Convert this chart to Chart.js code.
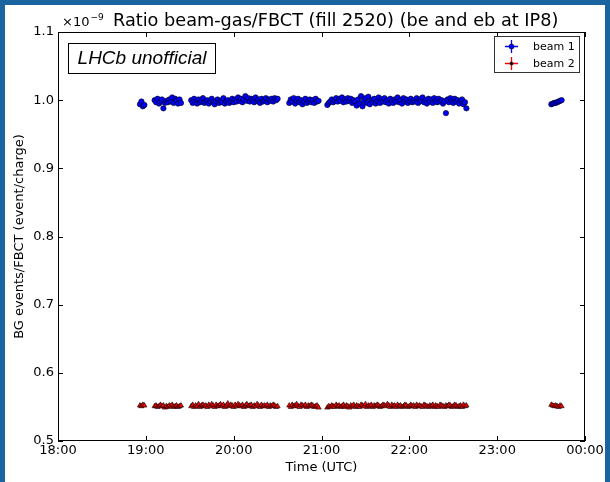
<!DOCTYPE html>
<html>
<head>
<meta charset="utf-8">
<script src="https://cdn.jsdelivr.net/npm/chart.js@4.4.0/dist/chart.umd.min.js"></script>
<style>
html,body{margin:0;padding:0;background:#fff;}
#wrap{position:absolute;left:0;top:0;width:610px;height:482px;}
</style>
</head>
<body>
<div id="wrap"><canvas id="c" width="610" height="482"></canvas></div>
<script>
// minutes after 18:00 (UTC)
const timesMin = [
 56,57,58,59,
 66,67,68,69,70,71,72,73,74,75,76,77,78,79,80,81,82,83,84,
 91,92,93,94,95,96,97,98,99,100,101,102,103,104,105,106,107,108,109,110,
 111,112,113,114,115,116,117,118,119,120,121,122,123,124,125,126,127,128,129,130,
 131,132,133,134,135,136,137,138,139,140,141,142,143,144,145,146,147,148,149,150,
 158,159,160,161,162,163,164,165,166,167,168,169,170,171,172,173,174,175,176,177,178,
 184,185,186,187,188,189,190,191,192,193,194,195,196,197,198,199,200,201,202,203,
 204,205,206,207,208,209,210,211,212,213,214,215,216,217,218,219,220,221,222,223,
 224,225,226,227,228,229,230,231,232,233,234,235,236,237,238,239,240,241,242,243,
 244,245,246,247,248,249,250,251,252,253,254,255,256,257,258,259,260,261,262,263,
 264,265,266,267,268,269,270,271,272,273,274,275,276,277,278,279,
 337,338,339,340,341,342,343,344
];
// ratio in units of 1e-9
const beam1 = [
 0.994,0.998,0.991,0.993,
 1.000,0.997,1.002,0.995,0.998,1.001,0.988,0.996,0.999,0.997,1.001,0.998,1.004,0.996,1.002,0.999,0.995,1.001,0.996,
 1.000,0.996,1.002,0.998,0.995,1.001,0.997,0.999,1.003,0.996,
 0.998,1.000,0.995,0.999,1.002,0.997,0.994,0.998,1.001,0.996,
 0.999,0.997,1.003,0.995,0.998,1.000,0.996,0.999,1.002,0.997,
 1.001,0.998,1.004,0.999,1.002,0.997,1.001,1.006,0.999,1.003,
 0.998,1.002,1.000,0.997,1.004,0.999,1.001,0.996,1.002,0.998,
 1.000,1.003,0.997,1.001,0.999,1.002,0.998,1.003,1.000,1.002,
 0.996,1.001,0.998,1.003,0.995,0.999,1.002,0.997,1.000,0.994,0.998,1.002,0.996,0.999,1.001,0.997,1.000,0.996,1.002,0.998,0.999,
 0.993,0.996,0.998,1.001,0.997,1.000,1.003,0.998,1.002,0.999,
 1.004,0.997,1.001,0.998,1.003,0.999,1.002,0.996,1.000,0.998,
 0.992,1.001,0.995,1.006,0.991,0.999,1.003,0.996,1.005,0.994,
 1.000,0.997,1.002,0.995,0.999,1.004,0.996,1.001,0.998,1.003,
 0.997,1.000,0.995,1.002,0.999,0.996,1.001,0.998,1.004,0.997,
 1.000,0.995,1.003,0.998,1.001,0.996,0.999,1.002,0.997,1.000,
 0.998,1.003,0.996,1.001,0.999,1.004,0.997,1.000,0.995,1.002,
 0.998,1.001,0.996,1.003,0.999,0.997,1.002,0.998,1.000,0.995,
 0.998,0.981,1.001,0.997,1.003,0.999,0.996,1.002,0.998,1.000,
 0.995,0.999,1.001,0.994,0.997,0.988,
 0.994,0.995,0.996,0.996,0.997,0.998,0.999,1.000
];
const beam2 = [
 0.552,0.551,0.553,0.552,
 0.551,0.552,0.550,0.551,0.553,0.551,0.552,0.549,0.551,0.550,0.552,0.551,0.553,0.550,0.551,0.552,0.550,0.551,0.552,
 0.551,0.553,0.550,0.552,0.551,0.554,0.550,0.552,0.553,0.551,
 0.552,0.550,0.553,0.551,0.554,0.552,0.550,0.553,0.551,0.552,
 0.554,0.551,0.553,0.550,0.552,0.555,0.551,0.553,0.552,0.550,
 0.553,0.551,0.554,0.552,0.551,0.553,0.550,0.552,0.554,0.551,
 0.552,0.553,0.550,0.552,0.551,0.554,0.552,0.550,0.553,0.551,
 0.552,0.551,0.553,0.550,0.552,0.551,0.553,0.552,0.550,0.551,
 0.552,0.550,0.553,0.551,0.552,0.554,0.551,0.550,0.553,0.552,0.551,0.553,0.550,0.552,0.551,0.553,0.552,0.550,0.551,0.552,0.549,
 0.549,0.551,0.550,0.552,0.551,0.550,0.553,0.551,0.552,0.550,
 0.551,0.553,0.550,0.552,0.551,0.549,0.552,0.551,0.553,0.550,
 0.552,0.551,0.550,0.553,0.552,0.551,0.554,0.550,0.552,0.551,
 0.553,0.550,0.552,0.551,0.553,0.552,0.550,0.551,0.553,0.552,
 0.551,0.554,0.552,0.550,0.553,0.551,0.552,0.550,0.553,0.551,
 0.552,0.550,0.551,0.553,0.552,0.550,0.551,0.553,0.551,0.552,
 0.550,0.553,0.551,0.552,0.551,0.550,0.553,0.552,0.551,0.550,
 0.552,0.551,0.553,0.550,0.552,0.551,0.550,0.553,0.552,0.551,
 0.550,0.552,0.551,0.553,0.552,0.550,0.551,0.553,0.552,0.550,
 0.551,0.552,0.550,0.553,0.551,0.552,
 0.553,0.552,0.551,0.552,0.551,0.550,0.552,0.551
];
const xTickLabels = ['18:00','19:00','20:00','21:00','22:00','23:00','00:00'];
const yTickLabels = ['0.5','0.6','0.7','0.8','0.9','1.0','1.1'];
const seriesNames = ['beam 1','beam 2'];
const titleText = 'Ratio beam-gas/FBCT (fill 2520) (be and eb at IP8)';

const FONT = '"DejaVu Sans", sans-serif';

const decor = {
  id: 'decor',
  beforeDraw(chart) {
    const ctx = chart.ctx;
    ctx.save();
    ctx.fillStyle = '#ffffff';
    ctx.fillRect(0, 0, 610, 482);
    ctx.fillStyle = '#1a64a0';
    ctx.fillRect(0, 0, 610, 5);
    ctx.fillRect(0, 0, 5, 482);
    ctx.fillRect(605, 0, 5, 482);
    ctx.restore();
  },
  afterDatasetsDraw(chart) {
    const ctx = chart.ctx;
    const a = chart.chartArea;
    const xs = chart.scales.x, ys = chart.scales.y;
    ctx.save();
    // frame
    ctx.strokeStyle = '#000';
    ctx.lineWidth = 1;
    ctx.strokeRect(Math.round(a.left) + 0.5, Math.round(a.top) + 0.5,
      Math.round(a.right - a.left) - 1, Math.round(a.bottom - a.top) - 1);
    // inward ticks
    ctx.beginPath();
    xs.ticks.forEach(t => {
      const px = Math.round(xs.getPixelForValue(t.value)) + 0.5;
      ctx.moveTo(px, a.bottom); ctx.lineTo(px, a.bottom - 5);
      ctx.moveTo(px, a.top); ctx.lineTo(px, a.top + 5);
    });
    ys.ticks.forEach(t => {
      const py = Math.round(ys.getPixelForValue(t.value)) + 0.5;
      ctx.moveTo(a.left, py); ctx.lineTo(a.left + 5, py);
      ctx.moveTo(a.right, py); ctx.lineTo(a.right - 5, py);
    });
    ctx.stroke();

    // title + offset text
    ctx.fillStyle = '#000';
    ctx.textBaseline = 'alphabetic';
    ctx.textAlign = 'left';
    ctx.font = '13px ' + FONT;
    ctx.fillText('\u00d710', 62, 26);
    const w10 = ctx.measureText('\u00d710').width;
    ctx.font = '9px ' + FONT;
    ctx.fillText('\u22129', 62 + w10 + 1, 20);
    ctx.font = '17.7px ' + FONT;
    ctx.fillText(titleText, 113, 26);

    // LHCb box
    ctx.fillStyle = '#fff';
    ctx.fillRect(68.5, 43.5, 147, 30);
    ctx.strokeStyle = '#000';
    ctx.strokeRect(68.5, 43.5, 147, 30);
    ctx.fillStyle = '#000';
    ctx.font = 'italic 19px "Liberation Sans", Arial, sans-serif';
    ctx.textAlign = 'center';
    ctx.textBaseline = 'middle';
    ctx.fillText('LHCb unofficial', 142, 59);

    // legend
    ctx.fillStyle = '#fff';
    ctx.fillRect(494.5, 36.5, 85, 36);
    ctx.strokeStyle = '#333';
    ctx.lineWidth = 1;
    ctx.strokeRect(494.5, 36.5, 85, 36);
    const entries = [
      {y: 46, line: '#0000ff', face: '#0000ff', r: 2.5},
      {y: 63, line: '#ff0000', face: '#000000', r: 1.5}
    ];
    entries.forEach((e, i) => {
      const cx = 511;
      ctx.strokeStyle = e.line;
      ctx.lineWidth = 1.3;
      ctx.beginPath();
      ctx.moveTo(cx - 6, e.y + 0.5); ctx.lineTo(cx + 7, e.y + 0.5);
      ctx.moveTo(cx + 0.5, e.y - 6); ctx.lineTo(cx + 0.5, e.y + 7);
      ctx.stroke();
      ctx.fillStyle = e.face;
      ctx.beginPath();
      ctx.arc(cx + 0.5, e.y + 0.5, e.r, 0, Math.PI * 2);
      ctx.fill();
      ctx.strokeStyle = '#000';
      ctx.lineWidth = 0.6;
      ctx.stroke();
      ctx.fillStyle = '#000';
      ctx.font = '11px ' + FONT;
      ctx.textAlign = 'left';
      ctx.textBaseline = 'middle';
      ctx.fillText(seriesNames[i], 533, e.y + 1);
    });
    ctx.restore();
  }
};

new Chart(document.getElementById('c'), {
  type: 'scatter',
  data: {
    datasets: [
      {
        label: seriesNames[0],
        data: timesMin.map((t, i) => ({x: t, y: beam1[i]})),
        pointStyle: 'circle',
        pointRadius: 2.7,
        backgroundColor: '#0000ff',
        borderColor: '#000000',
        borderWidth: 0.6,
        showLine: false
      },
      {
        label: seriesNames[1],
        data: timesMin.map((t, i) => ({x: t, y: beam2[i]})),
        pointStyle: 'triangle',
        pointRadius: 3,
        backgroundColor: '#ff0000',
        borderColor: '#000000',
        borderWidth: 0.6,
        showLine: false
      }
    ]
  },
  options: {
    responsive: false,
    animation: false,
    devicePixelRatio: 1,
    layout: {padding: {left: 0, right: 25, top: 32, bottom: 0}},
    plugins: {legend: {display: false}, tooltip: {enabled: false}},
    scales: {
      x: {
        type: 'linear', min: 0, max: 360,
        afterFit: s => { s.height = 41; },
        afterBuildTicks: s => { s.ticks = xTickLabels.map((l, i) => ({value: i * 60})); },
        grid: {display: false, drawTicks: false},
        border: {display: false},
        ticks: {
          padding: 2, maxRotation: 0, autoSkip: false,
          color: '#000', font: {family: FONT, size: 13},
          callback: (v, i) => xTickLabels[i]
        },
        title: {display: true, text: 'Time (UTC)', color: '#000',
          font: {family: FONT, size: 13}, padding: {top: 0, bottom: 7}}
      },
      y: {
        type: 'linear', min: 0.5, max: 1.1,
        afterFit: s => { s.width = 58; },
        afterBuildTicks: s => { s.ticks = yTickLabels.map(l => ({value: parseFloat(l)})); },
        grid: {display: false, drawTicks: false},
        border: {display: false},
        ticks: {
          padding: 4, autoSkip: false,
          color: '#000', font: {family: FONT, size: 13},
          callback: (v, i) => yTickLabels[i]
        },
        title: {display: true, text: 'BG events/FBCT (event/charge)', color: '#000',
          font: {family: FONT, size: 13}, padding: {top: 12, bottom: 0}}
      }
    }
  },
  plugins: [decor]
});
</script>
</body>
</html>
